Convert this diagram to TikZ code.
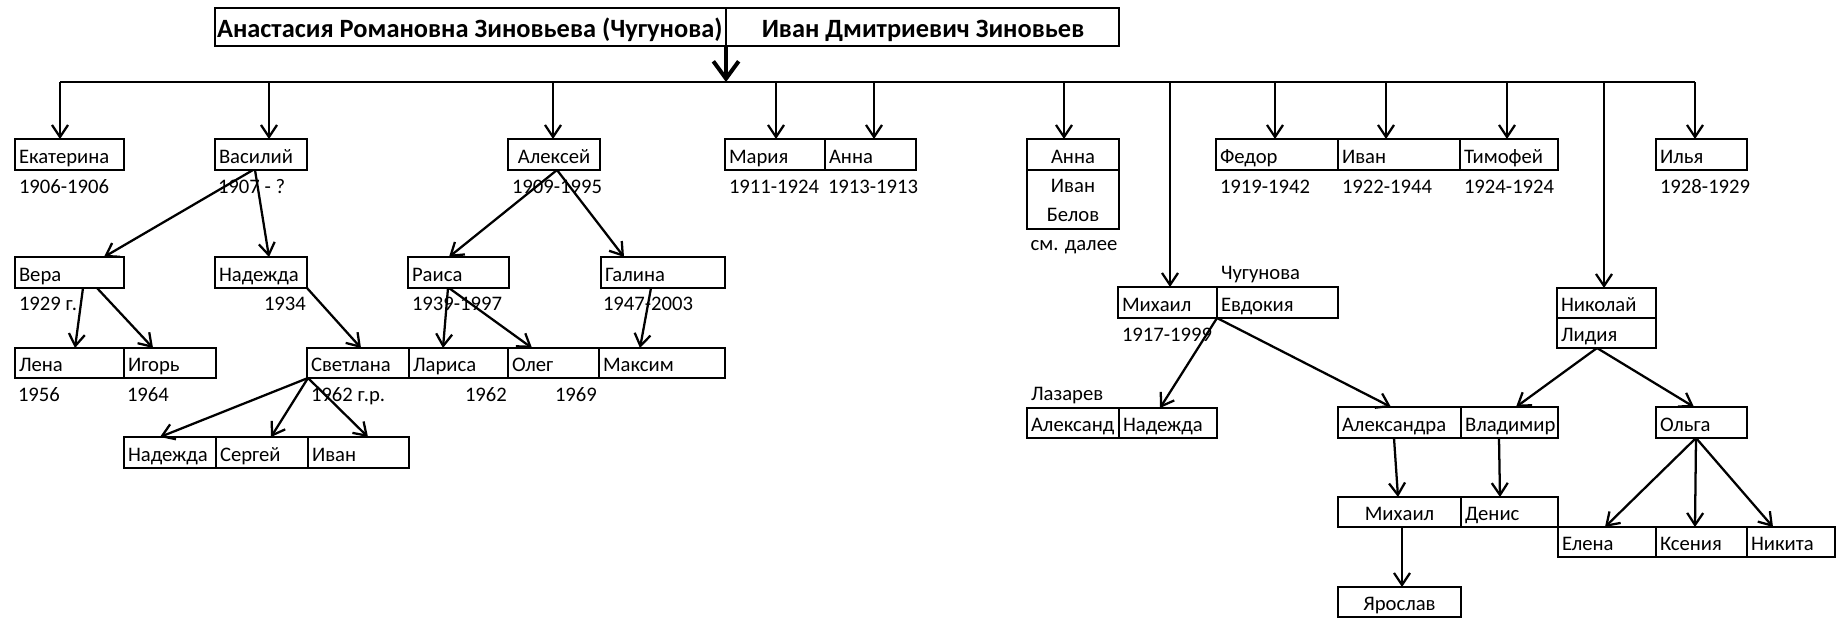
\documentclass[tikz,border=0pt]{standalone}
\usepackage{fontspec}
\setmainfont{Carlito}
\usetikzlibrary{arrows.meta,calc}
\tikzset{
  bx/.style={draw, line width=2.2pt, inner sep=0pt, outer sep=0pt, rectangle},
  lbl/.style={inner sep=0pt, outer sep=0pt, font=\fontsize{15.5}{18}\selectfont, anchor=base west},
  clbl/.style={lbl, anchor=base},
  ttl/.style={inner sep=0pt, outer sep=0pt, font=\bfseries\fontsize{19.8}{22}\selectfont, anchor=base west},
  conn/.style={line width=1.7pt, -{Straight Barb[length=9pt,width=12pt]}},
  mainarr/.style={line width=3pt, -{Straight Barb[length=13pt,width=19pt]}},
}
\newcommand\Bx[5]{\pgfmathsetmacro\cw{(#4-#2)*0.75}\pgfmathsetmacro\ch{(#5-#3)*0.75}%
  \node[bx, minimum width=\cw pt, minimum height=\ch pt] (#1) at ({(#2+#4)/2},{(#3+#5)/2}) {};}
\newcommand\Cell[6]{\Bx{#1}{#2}{#3}{#4}{#5}\node[lbl] (#1t) at ({#2+4},{#5-7}) {#6};}
\newcommand\CCell[6]{\Bx{#1}{#2}{#3}{#4}{#5}\node[clbl] (#1t) at ({(#2+#4)/2},{#5-7}) {#6};}
\newcommand\Drop[2]{\coordinate (#1d) at ($(#1.north west)+(#2,0)$);\draw[conn] (#1d |- barL) -- (#1d);}
\newcommand\Arr[4]{\draw[conn] ($(#1.south west)+(#2,0)$) -- ($(#3.north west)+(#4,0)$);}
\begin{document}
\begin{tikzpicture}[x=0.75pt,y=-0.75pt]
\useasboundingbox (0,0) rectangle (1843,619);
% title
\Bx{tA}{215}{8}{726}{46}
\Bx{tB}{726}{8}{1119}{46}
\node[ttl] (tAt) at (217,37) {Анастасия Романовна Зиновьева (Чугунова)};
\node[ttl, anchor=base] (tBt) at (923,37) {Иван Дмитриевич Зиновьев};
\coordinate (barL) at (60,82);
\coordinate (barR) at (1695,82);
\draw[line width=1.7pt] (barL) -- (barR);
\draw[mainarr] (tA.south east) -- (tA.south east |- barL);
% row 1
\Cell{ekat}{15}{139}{124}{170}{Екатерина}
\Cell{vas}{215}{139}{307}{170}{Василий}
\CCell{alex}{508}{139}{600}{170}{Алексей}
\Cell{maria}{725}{139}{825}{170}{Мария}
\Cell{anna}{825}{139}{916}{170}{Анна}
\CCell{annab}{1027}{139}{1119}{170}{Анна}
\Bx{ivanb}{1027}{170}{1119}{229}
\node[clbl] (ivanbt) at (1073,192) {Иван};
\node[clbl] (belovt) at (1073,221) {Белов};
\node[clbl] (seemore) at (1074,250) {см. далее};
\Cell{fedor}{1216}{139}{1338}{170}{Федор}
\Cell{ivan}{1338}{139}{1460}{170}{Иван}
\Cell{tim}{1460}{139}{1558}{170}{Тимофей}
\Cell{ilya}{1656}{139}{1747}{170}{Илья}
\node[lbl] (d1) at (19,193) {1906-1906};
\node[lbl] (d2) at (218,193) {1907 - ?};
\node[lbl] (d3) at (512,193) {1909-1995};
\node[lbl] (d4) at (729,193) {1911-1924};
\node[lbl] (d5) at (828,193) {1913-1913};
\node[lbl] (d6) at (1220,193) {1919-1942};
\node[lbl] (d7) at (1342,193) {1922-1944};
\node[lbl] (d8) at (1464,193) {1924-1924};
\node[lbl] (d9) at (1660,193) {1928-1929};
% row 2
\Cell{vera}{15}{257}{124}{288}{Вера}
\Cell{nadia}{215}{257}{307}{288}{Надежда}
\Cell{raisa}{408}{257}{509}{288}{Раиса}
\Cell{galina}{601}{257}{725}{288}{Галина}
\node[lbl] (d10) at (19,310) {1929 г.};
\node[lbl] (d11) at (264,310) {1934};
\node[lbl] (d12) at (412,310) {1939-1997};
\node[lbl] (d13) at (603,310) {1947-2003};
% row 3
\Cell{lena}{15}{348}{124}{378}{Лена}
\Cell{igor}{124}{348}{216}{378}{Игорь}
\Cell{svet}{307}{348}{409}{378}{Светлана}
\Cell{larisa}{409}{348}{508}{378}{Лариса}
\Cell{oleg}{508}{348}{599}{378}{Олег}
\Cell{maxim}{599}{348}{725}{378}{Максим}
\node[lbl] (d14) at (18,401) {1956};
\node[lbl] (d15) at (127,401) {1964};
\node[lbl] (d16) at (311,401) {1962 г.р.};
\node[lbl] (d17) at (465,401) {1962};
\node[lbl] (d18) at (555,401) {1969};
% row 4
\Cell{nadb}{124}{437}{216}{468}{Надежда}
\Cell{serg}{216}{437}{308}{468}{Сергей}
\Cell{ivanc}{308}{437}{409}{468}{Иван}
% right part
\Cell{mikh}{1118}{287}{1217}{318}{Михаил}
\Cell{evd}{1217}{287}{1338}{318}{Евдокия}
\node[lbl] (chug) at (1221,279) {Чугунова};
\node[lbl] (d19) at (1122,341) {1917-1999};
\Cell{nik}{1557}{288}{1656}{318}{Николай}
\Cell{lid}{1557}{318}{1656}{348}{Лидия}
\node[lbl] (laz) at (1031,400) {Лазарев};
\Cell{alexd}{1027}{408}{1119}{438}{Александ}
\Cell{nadc}{1119}{408}{1217}{438}{Надежда}
\Cell{alexa}{1338}{407}{1461}{438}{Александра}
\Cell{vlad}{1461}{407}{1558}{438}{Владимир}
\Cell{olga}{1656}{407}{1747}{438}{Ольга}
\CCell{mikhb}{1338}{497}{1461}{527}{Михаил}
\Cell{denis}{1461}{497}{1558}{527}{Денис}
\Cell{elena}{1558}{527}{1656}{557}{Елена}
\Cell{ksen}{1656}{527}{1747}{557}{Ксения}
\Cell{nikita}{1747}{527}{1835}{557}{Никита}
\CCell{yar}{1338}{587}{1461}{617}{Ярослав}
% drops from the bar
\Drop{ekat}{45}
\Drop{vas}{54}
\Drop{alex}{45}
\Drop{maria}{51}
\Drop{anna}{49}
\Drop{annab}{37}
\Drop{mikh}{52}
\Drop{fedor}{59}
\Drop{ivan}{48}
\Drop{tim}{47}
\Drop{nik}{47}
\Drop{ilya}{39}
% descendants
\Arr{vas}{38}{vera}{89}
\Arr{vas}{40}{nadia}{54}
\Arr{alex}{49}{raisa}{41}
\Arr{alex}{49}{galina}{23}
\Arr{vera}{68}{lena}{60}
\Arr{vera}{82}{igor}{29}
\Arr{nadia}{92}{svet}{54}
\Arr{raisa}{40}{larisa}{34}
\Arr{raisa}{41}{oleg}{24}
\Arr{galina}{50}{maxim}{41}
\Arr{svet}{1}{nadb}{36}
\Arr{svet}{1}{serg}{55}
\Arr{svet}{1}{ivanc}{60}
\Arr{mikh}{99}{nadc}{41}
\Arr{mikh}{99}{alexa}{53}
\Arr{lid}{40}{vlad}{55}
\Arr{lid}{40}{olga}{38}
\Arr{alexa}{56}{mikhb}{60}
\Arr{vlad}{38}{denis}{39}
\Arr{olga}{40}{elena}{47}
\Arr{olga}{40}{ksen}{39}
\Arr{olga}{40}{nikita}{26}
\Arr{mikhb}{64}{yar}{64}
\end{tikzpicture}
\end{document}
